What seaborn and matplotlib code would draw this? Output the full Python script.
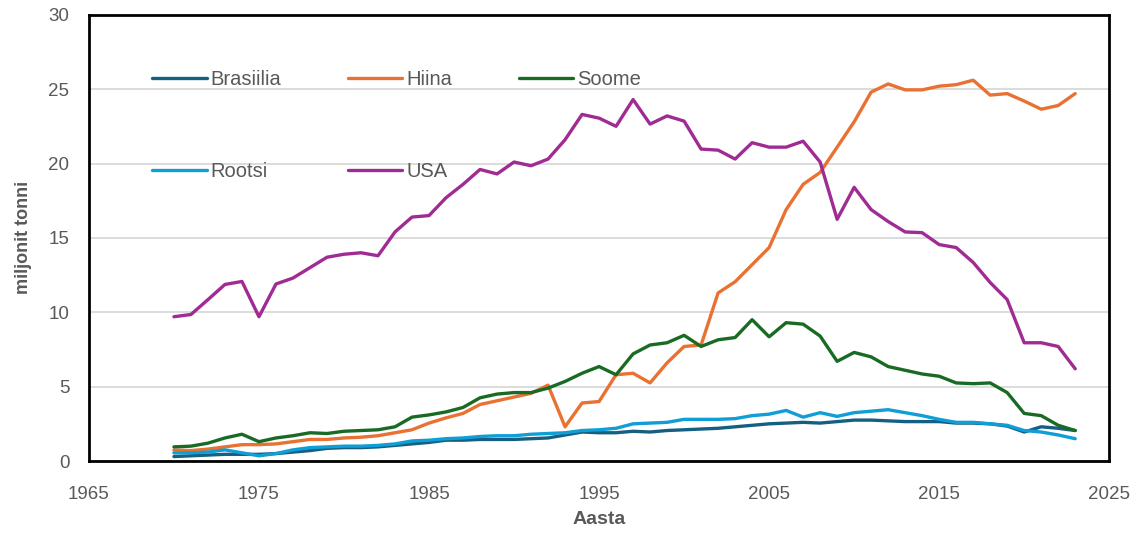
import matplotlib
matplotlib.use("Agg")
import matplotlib.pyplot as plt
import seaborn as sns
import pandas as pd

# Data (miljonit tonni), 1970-2023
years = list(range(1970, 2024))

brasiilia = [0.3, 0.35, 0.4, 0.45, 0.45, 0.45, 0.5, 0.6, 0.7, 0.85,
             0.9, 0.9, 0.95, 1.05, 1.15, 1.25, 1.4, 1.4, 1.45, 1.45,
             1.45, 1.5, 1.55, 1.75, 1.95, 1.9, 1.9, 2.0, 1.95, 2.05,
             2.1, 2.15, 2.2, 2.3, 2.4, 2.5, 2.55, 2.6, 2.55, 2.65,
             2.75, 2.75, 2.7, 2.65, 2.65, 2.65, 2.55, 2.55, 2.5, 2.35,
             1.95, 2.3, 2.2, 2.05]

hiina = [0.74, 0.7, 0.8, 0.95, 1.1, 1.1, 1.15, 1.3, 1.45, 1.45,
         1.55, 1.6, 1.7, 1.9, 2.1, 2.55, 2.9, 3.2, 3.8, 4.05,
         4.3, 4.55, 5.1, 2.3, 3.9, 4.0, 5.8, 5.9, 5.25, 6.6,
         7.7, 7.8, 11.3, 12.05, 13.2, 14.35, 16.9, 18.6, 19.4, 21.1,
         22.8, 24.8, 25.35, 24.95, 24.95, 25.2, 25.3, 25.6, 24.6, 24.7,
         24.2, 23.65, 23.9, 24.7]

soome = [0.95, 1.0, 1.2, 1.55, 1.8, 1.3, 1.55, 1.7, 1.9, 1.85,
         2.0, 2.05, 2.1, 2.3, 2.95, 3.1, 3.3, 3.6, 4.25, 4.5,
         4.6, 4.6, 4.9, 5.35, 5.9, 6.35, 5.8, 7.2, 7.8, 7.95,
         8.45, 7.7, 8.15, 8.3, 9.5, 8.35, 9.3, 9.2, 8.4, 6.7,
         7.3, 7.0, 6.35, 6.1, 5.85, 5.7, 5.25, 5.2, 5.25, 4.6,
         3.2, 3.05, 2.4, 2.05]

rootsi = [0.55, 0.55, 0.6, 0.75, 0.55, 0.35, 0.5, 0.75, 0.9, 0.95,
          1.0, 1.0, 1.05, 1.15, 1.35, 1.4, 1.5, 1.55, 1.65, 1.7,
          1.7, 1.8, 1.85, 1.9, 2.05, 2.1, 2.2, 2.5, 2.55, 2.6,
          2.8, 2.8, 2.8, 2.85, 3.05, 3.15, 3.4, 2.95, 3.25, 3.0,
          3.25, 3.35, 3.45, 3.25, 3.05, 2.8, 2.6, 2.6, 2.5, 2.4,
          2.05, 1.95, 1.75, 1.5]

usa = [9.7, 9.85, 10.85, 11.87, 12.07, 9.7, 11.9, 12.3, 13.0, 13.7,
       13.9, 14.0, 13.8, 15.4, 16.4, 16.5, 17.7, 18.6, 19.6, 19.3,
       20.1, 19.85, 20.3, 21.6, 23.3, 23.05, 22.5, 24.3, 22.65, 23.2,
       22.85, 20.97, 20.9, 20.3, 21.4, 21.1, 21.1, 21.5, 20.1, 16.25,
       18.4, 16.9, 16.1, 15.4, 15.35, 14.55, 14.35, 13.35, 12.0, 10.85,
       7.95, 7.95, 7.7, 6.2]

series = ["Brasiilia", "Hiina", "Soome", "Rootsi", "USA"]
colors = ["#156082", "#E97132", "#196B24", "#0F9ED5", "#A02B93"]

df = pd.concat([
    pd.DataFrame({"Aasta": years, "value": vals, "riik": name})
    for name, vals in zip(series, [brasiilia, hiina, soome, rootsi, usa])
])

sns.set_style("white")
plt.rcParams["font.family"] = ["Liberation Sans", "DejaVu Sans"]
grey = "#595959"

fig = plt.figure(figsize=(11.4, 5.37), dpi=100)
ax = fig.add_axes([0.078, 0.1415, 0.895, 0.831])

sns.lineplot(data=df, x="Aasta", y="value", hue="riik", hue_order=series,
             palette=dict(zip(series, colors)), linewidth=2.4, ax=ax)

ax.set_xlim(1965, 2025)
ax.set_ylim(0, 30)
ax.set_xticks(range(1965, 2026, 10))
ax.set_yticks(range(0, 31, 5))
ax.grid(axis="y", color="#d9d9d9", linewidth=1.3)
ax.set_axisbelow(True)
ax.tick_params(length=0, labelcolor=grey, labelsize=13.5)
ax.tick_params(axis="x", pad=18)
ax.tick_params(axis="y", pad=14)
for s in ax.spines.values():
    s.set_color("black")
    s.set_linewidth(2)

ax.set_xlabel("Aasta", fontsize=14, fontweight="bold", color=grey, labelpad=6)
ax.set_ylabel("miljonit tonni", fontsize=13, fontweight="bold", color=grey, labelpad=12)

# legend filled row by row: Brasiilia, Hiina, Soome / Rootsi, USA
handles, labels = ax.get_legend_handles_labels()
order = [0, 3, 1, 4, 2]
ax.legend([handles[i] for i in order], [labels[i] for i in order],
          ncol=3, loc="center left", bbox_to_anchor=(0.062, 0.752),
          frameon=False, fontsize=14.5, labelcolor=grey, handlelength=2.7,
          handletextpad=0.2, labelspacing=3.65, columnspacing=3.3,
          borderpad=0, borderaxespad=0)

plt.savefig("out.png", dpi=100)
